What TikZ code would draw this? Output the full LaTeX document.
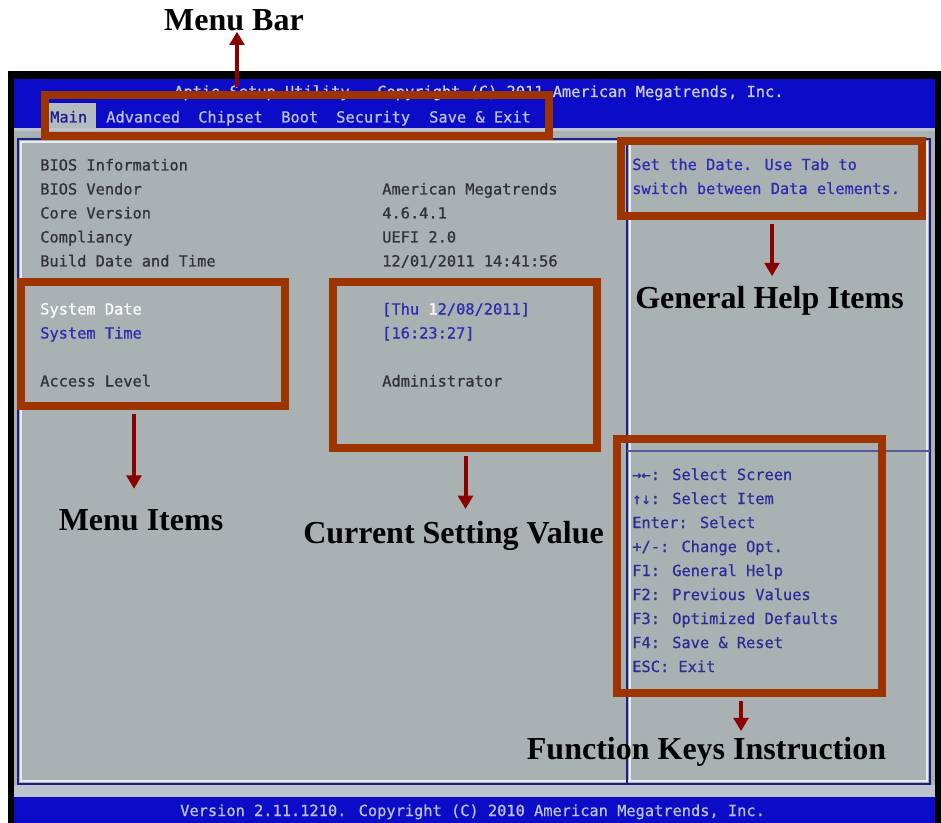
\documentclass[tikz,border=0pt]{standalone}
\usepackage{fontspec}
\usetikzlibrary{arrows.meta,fit}
\newfontfamily\biosfont{DejaVu Sans Mono}[FakeBold=0.8]
\newfontfamily\lblfont{Liberation Serif}
\definecolor{biosblue}{RGB}{12,12,200}
\definecolor{biosgray}{RGB}{170,177,179}
\definecolor{frameblue}{RGB}{30,30,140}
\definecolor{boxorange}{RGB}{158,52,0}
\definecolor{arrowred}{RGB}{139,0,0}
\definecolor{txtgray}{RGB}{50,50,55}
\definecolor{txtblue}{RGB}{45,45,175}
\definecolor{keyblue}{RGB}{45,45,150}
\definecolor{menulight}{RGB}{185,192,225}
\definecolor{titlelight}{RGB}{205,205,218}
\definecolor{hilite}{RGB}{180,187,192}
\definecolor{bandgray}{RGB}{190,196,205}
\begin{document}
\begin{tikzpicture}[x=0.75pt,y=-0.75pt,
  bt/.style={font=\biosfont\fontsize{11.5}{13}\selectfont, anchor=base west, inner sep=0pt},
  hlbox/.style={draw=boxorange, line width=6pt, inner sep=0pt},
  lbl/.style={font=\lblfont\bfseries\fontsize{24}{28}\selectfont, anchor=base, inner sep=0pt, text=black},
  arr/.style={draw=arrowred, line width=3pt, -{Triangle[width=11pt,length=10pt]}, shorten <=3pt}]

\useasboundingbox (0,0) rectangle (941,823);
\fill[white] (0,0) rectangle (941,823);
% screen
\fill[black] (8,71) rectangle (941,823);
\fill[biosblue] (14,79) rectangle (935,128);
\fill[biosgray] (14,128) rectangle (935,797);
\fill[bandgray] (14,128) rectangle (935,131);
\fill[bandgray] (14,785) rectangle (935,797);
\fill[biosblue] (14,797) rectangle (935,823);
% frame
\draw[white!75!biosgray, line width=0.8pt] (21,142) rectangle (927,781);
\draw[frameblue, line width=1.5pt] (18,139) rectangle (930,784);
\draw[frameblue, line width=1.5pt] (627,139) -- (627,784);
\draw[white!75!biosgray, line width=0.8pt] (630,142) -- (630,781);
\draw[frameblue!60!biosgray, line width=1.5pt] (627,451) -- (930,451);

% title bar and menu
\node[bt, text=titlelight] (title) at (174,97) {Aptio Setup Utility - Copyright (C) 2011 American Megatrends, Inc.};
\fill[hilite] (45,103) rectangle (96,128);
\node[bt, text=frameblue] (mMain) at (50,122.5) {Main};
\node[bt, text=menulight] (mAdv) at (106,122.5) {Advanced};
\node[bt, text=menulight] (mChip) at (198,122.5) {Chipset};
\node[bt, text=menulight] (mBoot) at (281,122.5) {Boot};
\node[bt, text=menulight] (mSec) at (336,122.5) {Security};
\node[bt, text=menulight] (mSave) at (429,122.5) {Save \& Exit};

% left column
\node[bt, text=txtgray] (r0) at (40,170.5) {BIOS Information};
\node[bt, text=txtgray] (r1) at (40,194.5) {BIOS Vendor};
\node[bt, text=txtgray] (r2) at (40,218.5) {Core Version};
\node[bt, text=txtgray] (r3) at (40,242.5) {Compliancy};
\node[bt, text=txtgray] (r4) at (40,266.5) {Build Date and Time};
\node[bt, text=white] (r6) at (40,314.5) {System Date};
\node[bt, text=txtblue] (r7) at (40,338.5) {System Time};
\node[bt, text=txtgray] (r9) at (40,386.5) {Access Level};
% right column
\node[bt, text=txtgray] (v1) at (382,194.5) {American Megatrends};
\node[bt, text=txtgray] (v2) at (382,218.5) {4.6.4.1};
\node[bt, text=txtgray] (v3) at (382,242.5) {UEFI 2.0};
\node[bt, text=txtgray] (v4) at (382,266.5) {12/01/2011 14:41:56};
\node[bt, text=txtblue] (v6) at (382,314.5) {[Thu \textcolor{white}{1}2/08/2011]};
\node[bt, text=txtblue] (v7) at (382,338.5) {[16:23:27]};
\node[bt, text=txtgray] (v9) at (382,386.5) {Administrator};
% help
\node[bt, text=txtblue] (h1) at (632,170) {Set the Date. Use Tab to};
\node[bt, text=txtblue] (h2) at (632,194) {switch between Data elements.};
% keys
\node[bt, text=keyblue] (k1) at (632,480) {→←: Select Screen};
\node[bt, text=keyblue] (k2) at (632,504) {↑↓: Select Item};
\node[bt, text=keyblue] (k3) at (632,528) {Enter: Select};
\node[bt, text=keyblue] (k4) at (632,552) {+/-: Change Opt.};
\node[bt, text=keyblue] (k5) at (632,576) {F1: General Help};
\node[bt, text=keyblue] (k6) at (632,600) {F2: Previous Values};
\node[bt, text=keyblue] (k7) at (632,624) {F3: Optimized Defaults};
\node[bt, text=keyblue] (k8) at (632,648) {F4: Save \& Reset};
\node[bt, text=keyblue] (k9) at (632,672) {ESC: Exit};
% footer
\node[bt, text=menulight] (foot) at (180,816) {Version 2.11.1210. Copyright (C) 2010 American Megatrends, Inc.};

% highlight boxes
\node[hlbox, fit={(45,95) (549,136)}] (mbox) {};
\node[hlbox, fit={(621,141) (922,216)}] (hbox) {};
\node[hlbox, fit={(21,282) (285,406)}] (mibox) {};
\node[hlbox, fit={(333,282) (597,448)}] (csbox) {};
\node[hlbox, fit={(617,439) (882,693)}] (fkbox) {};

% labels
\node[lbl] (mblbl) at (234,31) {Menu Bar};
\node[lbl] (milbl) at (141,530) {Menu Items};
\node[lbl] (cslbl) at (453.5,543) {Current Setting Value};
\node[lbl] (hlbl) at (769.5,308) {General Help Items};
\node[lbl] (fklbl) at (706.5,759) {Function Keys Instruction};

% arrows
\draw[arr] ([xshift=2.25pt]mblbl.south |- mbox.north) -- ([xshift=2.25pt]mblbl.south);
\draw[arr, shorten >=15pt] ([xshift=-5.25pt]milbl.north |- mibox.south) -- ([xshift=-5.25pt]milbl.north);
\draw[arr, shorten >=8.6pt] ([xshift=9pt]cslbl.north |- csbox.south) -- ([xshift=9pt]cslbl.north);
\draw[arr, shorten >=7pt] ([xshift=1.9pt]hlbl.north |- hbox.south) -- ([xshift=1.9pt]hlbl.north);
\draw[arr, shorten >=4pt] ([xshift=25.9pt]fklbl.north |- fkbox.south) -- ([xshift=25.9pt]fklbl.north);
\end{tikzpicture}
\end{document}
